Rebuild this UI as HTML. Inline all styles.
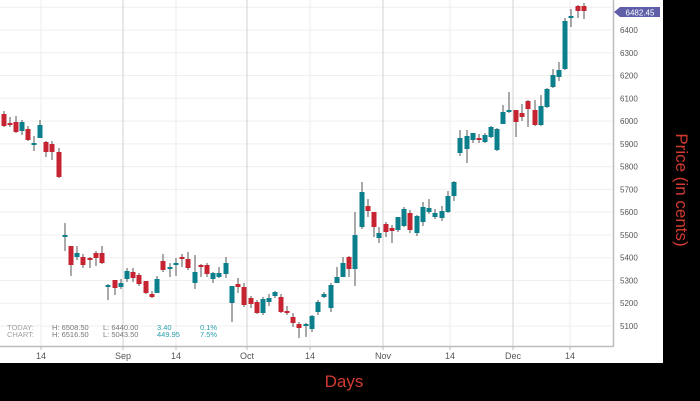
<!DOCTYPE html>
<html><head><meta charset="utf-8"><style>
html,body{margin:0;padding:0;background:#000;width:700px;height:401px;overflow:hidden}
svg{display:block;font-family:"Liberation Sans",sans-serif}
</style></head><body>
<svg id="s" width="700" height="401" xmlns="http://www.w3.org/2000/svg">
<rect x="0" y="0" width="700" height="401" fill="#000"/>
<rect x="0" y="0" width="663" height="363" fill="#fff"/>
<g id="grid"></g>
<g id="c"></g>
<line x1="613.5" y1="0" x2="613.5" y2="347" stroke="#bdbdbd" stroke-width="1.5"/>
<line x1="0" y1="346.5" x2="613" y2="346.5" stroke="#bdbdbd" stroke-width="1.5"/>
<g id="yl" font-size="8" fill="#555"></g>
<g id="xl" font-size="9" fill="#555" text-anchor="middle"></g>
<polygon points="614,12 620,7 660,7 660,17 620,17" fill="#5f5fa8"/>
<text x="640" y="15.3" font-size="8" fill="#fff" text-anchor="middle">6482.45</text>
<g font-size="7.5" fill="#a0a0a0">
<text x="7" y="330">TODAY:</text><text x="52" y="330" fill="#777">H: 6508.50</text><text x="103" y="330" fill="#777">L: 6440.00</text><text x="157" y="330" fill="#2aa0aa">3.40</text><text x="200" y="330" fill="#2aa0aa">0.1%</text>
<text x="7" y="337">CHART:</text><text x="52" y="337" fill="#777">H: 6516.50</text><text x="103" y="337" fill="#777">L: 5043.50</text><text x="157" y="337" fill="#2aa0aa">449.95</text><text x="200" y="337" fill="#2aa0aa">7.5%</text>
</g>
<text x="344" y="387" font-size="17" fill="#d23a32" text-anchor="middle">Days</text>
<text transform="translate(676,190) rotate(90)" font-size="17" fill="#d23a32" text-anchor="middle">Price (in cents)</text>
</svg>
<script>
var NS="http://www.w3.org/2000/svg";
function el(p,t,a){var e=document.createElementNS(NS,t);for(var k in a)e.setAttribute(k,a[k]);document.getElementById(p).appendChild(e);return e;}
for(var p=5100;p<=6500;p+=100){var y=30+(6400-p)*0.2277;el("grid","line",{x1:0,x2:613,y1:y,y2:y,stroke:"#efefef"});
 if(p<6500){var t=el("yl","text",{x:620,y:y+3});t.textContent=p;}}
[[41,"#eee"],[123,"#d0d0d0"],[176,"#eee"],[247,"#d0d0d0"],[310,"#eee"],[383,"#d0d0d0"],[450,"#eee"],[513,"#d0d0d0"],[570,"#eee"]].forEach(function(v){el("grid","line",{x1:v[0],x2:v[0],y1:0,y2:346,stroke:v[1]});el("grid","line",{x1:v[0],x2:v[0],y1:346,y2:350,stroke:"#bbb"});});
[[41,"14"],[123,"Sep"],[176,"14"],[247,"Oct"],[310,"14"],[383,"Nov"],[450,"14"],[513,"Dec"],[570,"14"]].forEach(function(v){var t=el("xl","text",{x:v[0],y:359});t.textContent=v[1];});
var R="#c62430",T="#0b7f8c";
var d=[[4,111,127,114,126,R],[10,117,127,123,125,R],[16,116,133,122,132,R],[22,120,135,122,131,T],[28,126,141,129,140,R],[34,136,151,143,145,T],[40,120,138,125,138,T],[46,141,157,142,152,R],[52,141,160,144,152,R],[59,148,178,152,177,R],
[65,223,251,235,237,T],[71,246,276,246,265,R],[77,246,260,253,257,T],[83,254,268,257,265,R],[90,257,268,258,260,R],[96,251,266,253,258,R],[102,246,264,253,263,R],
[108,284,300,285,287,T],[115,280,295,280,288,R],[121,279,289,283,287,T],[127,268,282,271,279,T],[133,268,282,272,278,R],[139,273,286,275,284,R],[146,281,294,281,293,R],[152,291,298,294,297,R],[157,276,293,279,293,T],[163,254,272,261,270,R],[170,263,277,267,268,T],[176,258,276,263,265,T],[182,254,267,257,259,R],[188,252,270,259,268,R],[195,255,289,272,283,T],[201,264,277,265,267,R],[207,263,277,265,274,R],[213,272,283,273,279,T],[219,267,278,273,277,T],[226,257,278,263,274,T],
[232,286,322,286,303,T],[238,278,293,284,287,R],[244,283,307,287,305,R],[251,296,308,298,304,R],[257,300,314,302,313,R],[263,297,315,299,313,T],[269,294,306,298,302,T],[275,291,298,292,296,T],[281,294,313,297,312,R],[287,306,315,311,312,R],[293,313,327,317,323,R],[299,322,338,324,328,R],[306,323,337,324,326,T],[312,315,332,316,329,T],[318,300,315,302,312,T],[324,292,298,294,297,T],[331,283,312,285,308,T],[337,267,283,277,283,T],[343,257,277,263,277,T],[349,256,277,257,269,R],[355,212,286,235,269,T],[362,182,229,192,227,T],[368,199,217,206,211,R],[374,212,237,212,227,R],[379,227,243,233,238,T],[386,222,237,224,232,R],[392,225,243,228,231,R],[398,217,232,217,230,T],[404,207,227,209,226,T],[410,210,233,213,230,R],[417,215,236,216,233,T],[423,202,226,207,222,T],[429,199,214,208,212,T],[435,209,219,213,217,T],[442,206,221,211,218,T],[448,191,213,196,212,T],[454,181,201,182,196,T],
[460,130,156,138,153,T],[467,130,163,136,149,T],[473,133,143,133,140,T],[479,134,143,138,140,R],[485,133,143,135,142,T],[491,126,138,127,137,T],[497,128,151,129,150,T],[503,105,124,112,124,T],[509,92,113,110,112,T],[516,110,137,110,122,R],[522,104,121,113,117,R],[528,100,127,101,109,R],[535,100,126,110,125,R],[541,95,126,106,125,T],[547,88,108,89,107,T],[553,69,88,75,87,T],[559,62,81,70,77,T],[565,18,70,21,69,T],[571,9,27,16,17,T],[578,5,18,6,11,R],[584,3,19,6,11,R]];
d.forEach(function(c){el("c","line",{x1:c[0],x2:c[0],y1:c[1],y2:c[2],stroke:"#555","stroke-width":1});el("c","rect",{x:c[0]-2.5,y:c[3],width:5,height:Math.max(2,c[4]-c[3]),fill:c[5]});});
</script>
</body></html>
